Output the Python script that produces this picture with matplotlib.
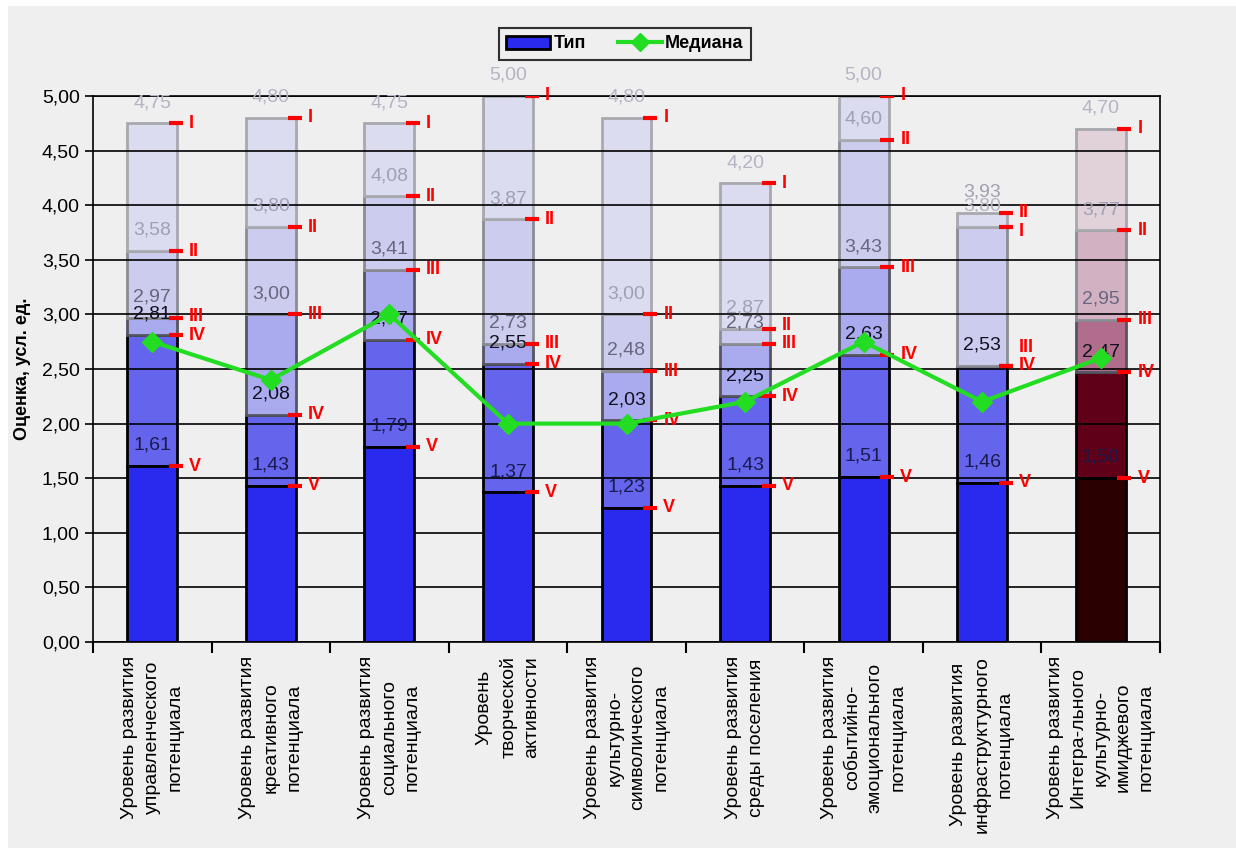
import matplotlib as mpl
mpl.use('Agg')
import matplotlib.pyplot as plt
from matplotlib.patches import Rectangle, Patch
from matplotlib.lines import Line2D

plt.rcParams['font.family'] = ['Liberation Sans', 'DejaVu Sans']

categories = [
    'Уровень развития\nуправленческого\nпотенциала',
    'Уровень развития\nкреативного\nпотенциала',
    'Уровень развития\nсоциального\nпотенциала',
    'Уровень\nтворческой\nактивности',
    'Уровень развития\nкультурно-\nсимволического\nпотенциала',
    'Уровень развития\nсреды поселения',
    'Уровень развития\nсобытийно-\nэмоционального\nпотенциала',
    'Уровень развития\nинфраструктурного\nпотенциала',
    'Уровень развития\nИнтегра-льного\nкультурно-\nимиджевого\nпотенциала',
]
levels = ['V', 'IV', 'III', 'II', 'I']
# boundary values per level, V .. I
lvl_V = [1.61, 1.43, 1.79, 1.37, 1.23, 1.43, 1.51, 1.46, 1.50]
lvl_IV = [2.81, 2.08, 2.77, 2.55, 2.03, 2.25, 2.63, 2.53, 2.47]
lvl_III = [2.97, 3.00, 3.41, 2.73, 2.48, 2.73, 3.43, 2.53, 2.95]
lvl_II = [3.58, 3.80, 4.08, 3.87, 3.00, 2.87, 4.60, 3.93, 3.77]
lvl_I = [4.75, 4.80, 4.75, 5.00, 4.80, 4.20, 5.00, 3.80, 4.70]
median = [2.75, 2.40, 3.00, 2.00, 2.00, 2.20, 2.75, 2.20, 2.60]

blue_cols = ['#2a2aee', '#6464ec', '#aaaaee', '#ccccee', '#dcdcf0']
maroon_cols = ['#2a0000', '#600018', '#b06e8c', '#d2b2c2', '#e0d2d8']
edge_cols = ['black', 'black', '#555560', '#8c8c94', '#a8a8ae']
lab_cols = ['#1a1a50', '#101020', '#66667e', '#a0a0b4', '#b4b4c4']

fmt = lambda v: ('%.2f' % v).replace('.', ',')

fig = plt.figure(figsize=(12.36, 8.48), dpi=100)
fig.patch.set_facecolor('white')
fig.patches.append(Rectangle((8 / 1236, 0), 1, 1 - 6 / 848, transform=fig.transFigure,
                             facecolor='#efefef', edgecolor='none', zorder=-10))
ax = fig.add_axes([93 / 1236, 1 - 642 / 848, (1160 - 93) / 1236, (642 - 96) / 848])
ax.set_facecolor('none')
ax.set_axisbelow('line')

w = 0.42
vals = [lvl_V, lvl_IV, lvl_III, lvl_II, lvl_I]
for i in range(len(categories)):
    cols = maroon_cols if i == len(categories) - 1 else blue_cols
    pts = sorted([(vals[k][i], k) for k in range(5)])
    bottom = 0
    for rank, (v, k) in enumerate(pts):
        h = v - bottom
        if h > 0:
            ax.bar(i, h, bottom=bottom, width=w, color=cols[rank],
                   edgecolor=edge_cols[rank], linewidth=2,
                   zorder=2 if rank == 0 else 1)
        bottom = v
    # value labels
    shown = []
    for k in range(5):
        v = vals[k][i]
        if any(abs(v - s) < 1e-6 for s in shown):
            continue
        shown.append(v)
        ax.text(i, v + 0.19, fmt(v), ha='center', va='center', fontsize=14,
                color=lab_cols[k], zorder=5)
    # red level marks (nudge numerals apart when they collide)
    used = []
    for k in range(5):
        v = vals[k][i]
        ty = v
        for u in used:
            if abs(ty - u) < 0.17:
                ty = u - 0.17 if v < u - 1e-6 else u + 0.17
        used.append(ty)
        ax.plot(i + w / 2 - 0.01, v, marker='_', markersize=10, mew=3,
                color='#ff0000', zorder=6)
        ax.text(i + w / 2 + 0.10, ty, levels[k], color='#ff0000', fontsize=13,
                fontweight='bold', ha='left', va='center', zorder=6)

ax.plot(range(len(categories)), median, color='#22dd22', lw=3, marker='D',
        markersize=10, zorder=7)

ax.set_xlim(-0.5, len(categories) - 0.5)
ax.set_ylim(0, 5)
ax.set_yticks([i * 0.5 for i in range(11)])
ax.set_yticklabels([fmt(i * 0.5) for i in range(11)], fontsize=14)
ax.yaxis.grid(True, color='black', lw=1.2)
ax.tick_params(axis='y', length=6, width=1.2, direction='out')
ax.set_xticks([i - 0.5 for i in range(len(categories) + 1)])
ax.set_xticklabels([])
ax.tick_params(axis='x', which='major', length=8, width=1.5, direction='out')
ax.set_xticks(range(len(categories)), minor=True)
ax.set_xticklabels(categories, minor=True, rotation=90, fontsize=14,
                   ha='center', va='top', multialignment='center', linespacing=1.45)
ax.tick_params(axis='x', which='minor', length=0, pad=10)
for s in ax.spines.values():
    s.set_color('black')
    s.set_linewidth(1.2)
ax.set_ylabel('Оценка, усл. ед.', fontsize=13, fontweight='bold', labelpad=8)

handles = [Patch(facecolor='#2a2aee', edgecolor='black', linewidth=2),
           Line2D([], [], color='#22dd22', lw=3, marker='D', markersize=9)]
leg = fig.legend(handles, ['Тип', 'Медиана'], loc='center', ncol=2,
                 bbox_to_anchor=(625 / 1236, 1 - 44 / 848), frameon=True,
                 fancybox=False, edgecolor='black', facecolor='#efefef',
                 prop={'weight': 'bold', 'size': 13}, handlelength=2.4,
                 columnspacing=1.8, handletextpad=0.2, borderpad=0.4)
leg.get_frame().set_linewidth(1.5)

fig.savefig('out.png', dpi=100)
plt.close(fig)
